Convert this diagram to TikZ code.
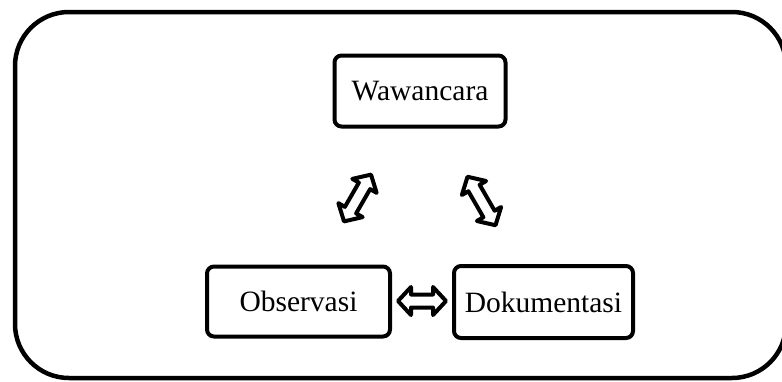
\documentclass[tikz,border=0pt]{standalone}
\usepackage{fontspec}
\setmainfont{Liberation Serif}
\tikzset{
  box/.style={draw, line width=4pt, rounded corners=7pt, inner sep=0pt,
    font=\fontsize{29.5}{34}\selectfont},
  frame/.style={draw, line width=4.5pt, rounded corners=54pt},
  dblarrow/.style={draw, line width=4pt, line join=round, fill=white}
}
% double block arrow centred at named coordinate #1, rotated #2, length #3
\newcommand\dblarr[3]{%
  \begin{scope}[shift={(#1)}, rotate=#2]
    \draw[dblarrow] (-#3/2,0) -- (-#3/2+13,14) -- (-#3/2+13,6.5) -- (#3/2-13,6.5)
      -- (#3/2-13,14) -- (#3/2,0) -- (#3/2-13,-14) -- (#3/2-13,-6.5)
      -- (-#3/2+13,-6.5) -- (-#3/2+13,-14) -- cycle;
  \end{scope}}
\begin{document}
\begin{tikzpicture}[x=1pt, y=-1pt]
  \useasboundingbox (0,0) rectangle (782,381);
  \draw[frame] (15,12) rectangle (786,378);
  \node[box, minimum width=171pt, minimum height=71pt] (wa) at (420,91) {Wawancara};
  \node[box, minimum width=183pt, minimum height=70pt] (ob) at (298.5,301.5) {Observasi};
  \node[box, minimum width=179pt, minimum height=72pt] (dok) at (543.5,302) {Dokumentasi};
  \coordinate (a1) at (357.5,198);
  \coordinate (a2) at (481.5,201);
  \coordinate (a3) at (422,301);
  \dblarr{a1}{60}{54}
  \dblarr{a2}{-60}{56}
  \dblarr{a3}{0}{48}
\end{tikzpicture}
\end{document}
